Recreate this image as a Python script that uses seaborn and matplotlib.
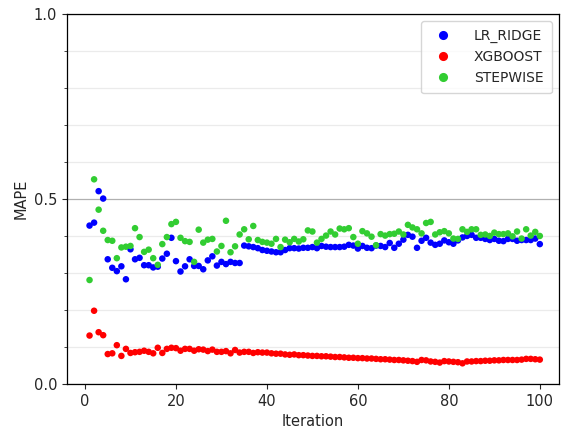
import matplotlib
matplotlib.use("Agg")
import matplotlib.pyplot as plt
from matplotlib.ticker import MultipleLocator
import numpy as np
import pandas as pd
import seaborn as sns

iterations = list(range(1, 101))

lr_ridge = [
    0.428, 0.436, 0.521, 0.501, 0.337, 0.314, 0.305, 0.318, 0.283, 0.364,
    0.337, 0.341, 0.321, 0.321, 0.315, 0.317, 0.339, 0.352, 0.395, 0.332,
    0.304, 0.318, 0.337, 0.319, 0.319, 0.310, 0.334, 0.345, 0.320, 0.330,
    0.324, 0.330, 0.327, 0.327, 0.374, 0.372, 0.370, 0.367, 0.362, 0.360,
    0.358, 0.356, 0.356, 0.362, 0.367, 0.367, 0.366, 0.368, 0.368, 0.370,
    0.367, 0.373, 0.371, 0.370, 0.370, 0.370, 0.371, 0.376, 0.374, 0.366,
    0.373, 0.368, 0.367, 0.374, 0.373, 0.370, 0.381, 0.368, 0.379, 0.390,
    0.403, 0.398, 0.368, 0.387, 0.395, 0.382, 0.376, 0.379, 0.388, 0.383,
    0.379, 0.388, 0.396, 0.400, 0.403, 0.395, 0.395, 0.392, 0.389, 0.392,
    0.387, 0.386, 0.392, 0.392, 0.387, 0.389, 0.389, 0.389, 0.393, 0.378,
]

xgboost = [
    0.131, 0.198, 0.140, 0.132, 0.081, 0.083, 0.105, 0.076, 0.095, 0.084,
    0.086, 0.087, 0.090, 0.087, 0.083, 0.098, 0.084, 0.095, 0.098, 0.097,
    0.090, 0.095, 0.095, 0.090, 0.094, 0.093, 0.089, 0.093, 0.087, 0.087,
    0.089, 0.083, 0.092, 0.085, 0.087, 0.087, 0.084, 0.086, 0.085, 0.085,
    0.083, 0.082, 0.082, 0.080, 0.079, 0.080, 0.078, 0.078, 0.077, 0.076,
    0.076, 0.075, 0.075, 0.074, 0.073, 0.073, 0.072, 0.071, 0.071, 0.070,
    0.070, 0.069, 0.069, 0.068, 0.067, 0.067, 0.066, 0.065, 0.065, 0.064,
    0.063, 0.062, 0.060, 0.065, 0.064, 0.061, 0.060, 0.058, 0.062, 0.061,
    0.060, 0.059, 0.056, 0.061, 0.061, 0.062, 0.062, 0.063, 0.063, 0.064,
    0.064, 0.065, 0.065, 0.065, 0.065, 0.066, 0.068, 0.068, 0.067, 0.066,
]

stepwise = [
    0.281, 0.553, 0.471, 0.414, 0.389, 0.387, 0.340, 0.369, 0.371, 0.373,
    0.421, 0.397, 0.357, 0.363, 0.340, 0.322, 0.378, 0.397, 0.432, 0.438,
    0.395, 0.386, 0.384, 0.330, 0.417, 0.382, 0.390, 0.392, 0.358, 0.373,
    0.441, 0.356, 0.372, 0.404, 0.418, 0.391, 0.427, 0.389, 0.384, 0.382,
    0.379, 0.392, 0.370, 0.390, 0.383, 0.392, 0.385, 0.391, 0.415, 0.412,
    0.382, 0.392, 0.401, 0.412, 0.404, 0.420, 0.418, 0.421, 0.397, 0.379,
    0.413, 0.407, 0.398, 0.375, 0.405, 0.401, 0.405, 0.406, 0.412, 0.404,
    0.430, 0.423, 0.418, 0.407, 0.435, 0.438, 0.404, 0.410, 0.413, 0.407,
    0.393, 0.392, 0.418, 0.411, 0.418, 0.418, 0.403, 0.404, 0.400, 0.409,
    0.405, 0.405, 0.407, 0.399, 0.412, 0.393, 0.418, 0.401, 0.411, 0.400,
]

models = ["LR_RIDGE", "XGBOOST", "STEPWISE"]
colors = {"LR_RIDGE": "blue", "XGBOOST": "red", "STEPWISE": "limegreen"}

df = pd.DataFrame({
    "Iteration": iterations * 3,
    "MAPE": lr_ridge + xgboost + stepwise,
    "model": np.repeat(models, len(iterations)),
})

sns.set_style("ticks")
plt.rcParams["font.family"] = ["DejaVu Sans"]

fig = plt.figure(figsize=(5.68, 4.32), dpi=100)
ax = fig.add_axes([0.118, 0.111, 0.866, 0.857])

sns.scatterplot(
    data=df, x="Iteration", y="MAPE", hue="model", palette=colors,
    s=22, linewidth=0, ax=ax, zorder=3,
)

ax.set_ylim(0, 1.0)
ax.set_xlim(-3.95, 104.2)
ax.yaxis.set_major_locator(MultipleLocator(0.5))
ax.yaxis.set_minor_locator(MultipleLocator(0.1))
ax.grid(axis="y", which="major", color="#b0b0b0", linewidth=0.9)
ax.grid(axis="y", which="minor", color="#ebebeb", linewidth=0.9)
ax.grid(axis="x", visible=False)
ax.set_axisbelow(True)
ax.tick_params(labelsize=10.5)
ax.set_xlabel("Iteration", fontsize=10.5)
ax.set_ylabel("MAPE", fontsize=10.5)
for sp in ax.spines.values():
    sp.set_color("black")
    sp.set_linewidth(0.9)

handles, labels = ax.get_legend_handles_labels()
ax.legend(handles, labels, loc="upper right", fontsize=10, markerscale=1.4,
          handletextpad=1.2, borderpad=0.6, frameon=True)

fig.savefig("out.png", dpi=100)
